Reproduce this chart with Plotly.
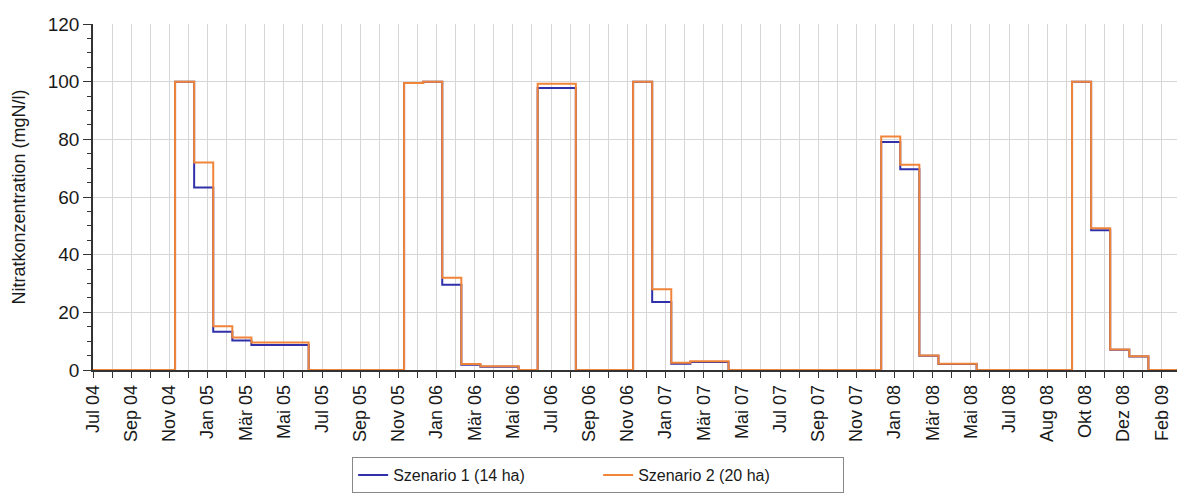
import plotly.graph_objects as go

# Month labels (every second month tick, as printed on the original axis)
tick_labels = ["Jul 04", "Sep 04", "Nov 04", "Jan 05", "Mär 05", "Mai 05", "Jul 05",
               "Sep 05", "Nov 05", "Jan 06", "Mär 06", "Mai 06", "Jul 06", "Sep 06",
               "Nov 06", "Jan 07", "Mär 07", "Mai 07", "Jul 07", "Sep 07", "Nov 07",
               "Jan 08", "Mär 08", "Mai 08", "Jul 08", "Aug 08", "Okt 08", "Dez 08",
               "Feb 09"]

# Monthly step start times (months since Jul 04)
step_months = [i + 0.3 for i in range(57)]

# Nitrate concentration per monthly step (mgN/l)
szenario1 = [0, 0, 0, 0, 100, 63.3, 13.3, 10.2, 8.7, 8.7, 8.7,
             0, 0, 0, 0, 0, 99.5, 100, 29.6, 1.8, 1.1, 1.1,
             0, 97.8, 97.8, 0, 0, 0, 100, 23.6, 2.2, 2.8, 2.8,
             0, 0, 0, 0, 0, 0, 0, 0, 79.1, 69.6, 4.9, 2.1, 2.1,
             0, 0, 0, 0, 0, 100, 48.5, 7.0, 4.7, 0, 0]
szenario2 = [0, 0, 0, 0, 100, 72.0, 15.2, 11.3, 9.5, 9.5, 9.5,
             0, 0, 0, 0, 0, 99.5, 100, 32.0, 2.1, 1.3, 1.3,
             0, 99.3, 99.3, 0, 0, 0, 100, 28.0, 2.5, 3.0, 3.0,
             0, 0, 0, 0, 0, 0, 0, 0, 81.0, 71.2, 5.0, 2.2, 2.2,
             0, 0, 0, 0, 0, 100, 49.2, 7.1, 4.8, 0, 0]

x_start, x_end = 0, 56.8
xs = [x_start] + step_months + [x_end]

def ext(v):
    return [v[0]] + v + [v[-1]]

fig = go.Figure()
fig.add_trace(go.Scatter(x=xs, y=ext(szenario1), mode="lines", line_shape="hv",
                         line=dict(color="#3030aa", width=2),
                         name="Szenario 1 (14 ha)"))
fig.add_trace(go.Scatter(x=xs, y=ext(szenario2), mode="lines", line_shape="hv",
                         line=dict(color="#f0853a", width=2),
                         name="Szenario 2 (20 ha)"))

grid = "#d6d6d6"
fig.update_layout(
    width=1178, height=493,
    margin=dict(l=93, r=1, t=24, b=122),
    paper_bgcolor="white", plot_bgcolor="white",
    font=dict(family="Liberation Sans, Arial, sans-serif", size=18, color="#1a1a1a"),
    showlegend=True,
    legend=dict(orientation="h", x=0.466, xanchor="center", y=-0.25, yanchor="top",
                bordercolor="#888888", borderwidth=1, font=dict(size=16),
                entrywidth=200, entrywidthmode="pixels", traceorder="normal"),
    xaxis=dict(range=[x_start, x_end], tickmode="array", automargin=False,
               tickvals=[2 * i for i in range(len(tick_labels))], ticktext=tick_labels,
               tickangle=-90, ticks="outside", ticklen=6, tickcolor="#333",
               tickfont=dict(size=18),
               showgrid=True, gridcolor=grid, gridwidth=1,
               showline=True, linecolor="#333", linewidth=1.5, zeroline=False,
               minor=dict(tickmode="linear", tick0=0, dtick=1, ticks="outside",
                          ticklen=6, tickcolor="#333", showgrid=True, gridcolor=grid)),
    yaxis=dict(range=[0, 120], tickmode="linear", tick0=0, dtick=20, automargin=False,
               ticks="outside", ticklen=8, tickcolor="#333",
               tickfont=dict(size=19),
               showgrid=True, gridcolor=grid, gridwidth=1,
               showline=True, linecolor="#333", linewidth=1.5, zeroline=False,
               title=dict(text="Nitratkonzentration (mgN/l)", font=dict(size=18), standoff=17),
               minor=dict(tickmode="linear", tick0=0, dtick=5, ticks="outside",
                          ticklen=4, tickcolor="#333", showgrid=False)),
)

fig.write_html("out.html")
